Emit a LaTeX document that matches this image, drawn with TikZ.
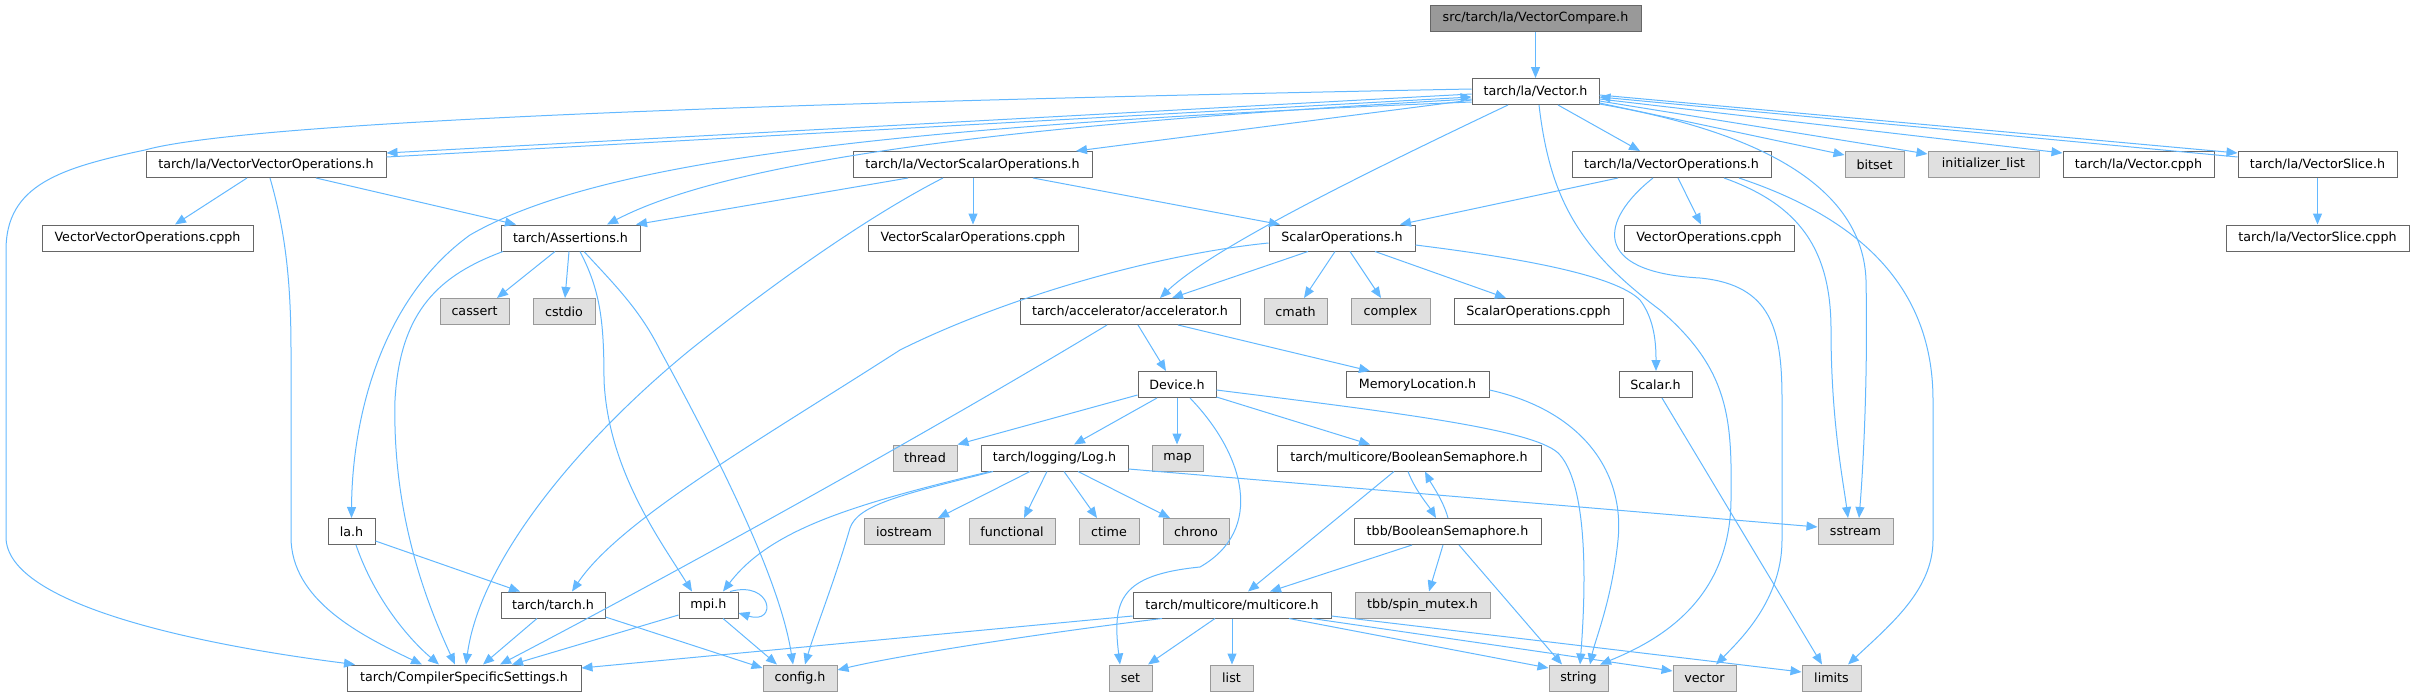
\documentclass[tikz,border=0pt]{standalone}
\usepackage{fontspec}
\newfontfamily\dej{DejaVu Sans}
\usetikzlibrary{arrows.meta}
\definecolor{edgec}{HTML}{63B8FF}
\definecolor{nodeborder}{HTML}{666666}
\definecolor{sysborder}{HTML}{999999}
\definecolor{sysfill}{HTML}{E0E0E0}
\definecolor{rootfill}{HTML}{999999}
\tikzset{
  nd/.style={draw=nodeborder, fill=white, line width=1pt, minimum height=26pt, inner sep=0pt, font={\dej\fontsize{12.7pt}{15pt}\selectfont}, text=black},
  sys/.style={nd, draw=sysborder, fill=sysfill},
  rootnd/.style={nd, fill=rootfill},
  e/.style={draw=edgec, line width=1pt, -{Triangle[length=11pt,width=9pt]}},
}
\begin{document}
\begin{tikzpicture}[x=1pt,y=-1pt]
\useasboundingbox (0,0) rectangle (2414,696);
% row 0
\node[rootnd, minimum width=211pt] (cmp) at (1535.5,18) {src/tarch/la/VectorCompare.h};
% row 1
\node[nd, minimum width=127pt] (vec) at (1535.5,91.5) {tarch/la/Vector.h};
% row 2
\node[nd, minimum width=240pt] (vvo) at (266,164.5) {tarch/la/VectorVectorOperations.h};
\node[nd, minimum width=239pt] (vso) at (972.5,164.5) {tarch/la/VectorScalarOperations.h};
\node[nd, minimum width=199pt] (vop) at (1671.5,164.5) {tarch/la/VectorOperations.h};
\node[sys, minimum width=59pt] (bitset) at (1874.5,164.5) {bitset};
\node[sys, minimum width=111pt] (initl) at (1983.5,164.5) {initializer\_list};
\node[nd, minimum width=151pt] (vcpph) at (2138.5,164.5) {tarch/la/Vector.cpph};
\node[nd, minimum width=159pt] (vsl) at (2317.5,164.5) {tarch/la/VectorSlice.h};
% row 3
\node[nd, minimum width=211pt] (vvocpph) at (147.5,238) {VectorVectorOperations.cpph};
\node[nd, minimum width=139pt] (ass) at (570.5,238) {tarch/Assertions.h};
\node[nd, minimum width=210pt] (vsocpph) at (973,238) {VectorScalarOperations.cpph};
\node[nd, minimum width=146pt] (sop) at (1342,238) {ScalarOperations.h};
\node[nd, minimum width=170pt] (vopcpph) at (1709,238) {VectorOperations.cpph};
\node[nd, minimum width=183pt] (vslcpph) at (2317.5,238) {tarch/la/VectorSlice.cpph};
% row 4
\node[sys, minimum width=69pt] (cassert) at (474.5,311.5) {cassert};
\node[sys, minimum width=62pt] (cstdio) at (564,311.5) {cstdio};
\node[nd, minimum width=220pt] (acc) at (1130,311.5) {tarch/accelerator/accelerator.h};
\node[sys, minimum width=63pt] (cmath) at (1295.5,311.5) {cmath};
\node[sys, minimum width=79pt] (complex) at (1390.5,311.5) {complex};
\node[nd, minimum width=169pt] (sopcpph) at (1538.5,311.5) {ScalarOperations.cpph};
% row 5
\node[nd, minimum width=78pt] (dev) at (1177,384.5) {Device.h};
\node[nd, minimum width=143pt] (memloc) at (1417.5,384.5) {MemoryLocation.h};
\node[nd, minimum width=73pt] (scalar) at (1655.5,384.5) {Scalar.h};
% row 6
\node[sys, minimum width=64pt] (thread) at (925,458) {thread};
\node[nd, minimum width=147pt] (log) at (1054.5,458) {tarch/logging/Log.h};
\node[sys, minimum width=51pt] (map) at (1177.5,458) {map};
\node[nd, minimum width=264pt] (bsem) at (1409,458) {tarch/multicore/BooleanSemaphore.h};
% row 7
\node[nd, minimum width=47pt] (lah) at (351.5,531.5) {la.h};
\node[sys, minimum width=80pt] (iostream) at (904,531.5) {iostream};
\node[sys, minimum width=86pt] (functional) at (1012,531.5) {functional};
\node[sys, minimum width=60pt] (ctime) at (1109,531.5) {ctime};
\node[sys, minimum width=66pt] (chrono) at (1196,531.5) {chrono};
\node[nd, minimum width=187pt] (tbbsem) at (1447.5,531.5) {tbb/BooleanSemaphore.h};
\node[sys, minimum width=75pt] (sstream) at (1855.5,531.5) {sstream};
% row 8
\node[nd, minimum width=104pt] (tarch) at (553,605) {tarch/tarch.h};
\node[nd, minimum width=59pt] (mpi) at (708.5,605) {mpi.h};
\node[nd, minimum width=198pt] (mc) at (1232,605) {tarch/multicore/multicore.h};
\node[sys, minimum width=135pt] (spin) at (1422.5,605) {tbb/spin\_mutex.h};
% row 9
\node[nd, minimum width=234pt] (css) at (464,678) {tarch/CompilerSpecificSettings.h};
\node[sys, minimum width=74pt] (config) at (800,678) {config.h};
\node[sys, minimum width=43pt] (set) at (1130.5,678) {set};
\node[sys, minimum width=43pt] (list) at (1231.5,678) {list};
\node[sys, minimum width=59pt] (string) at (1578.5,678) {string};
\node[sys, minimum width=63pt] (vector) at (1704.5,678) {vector};
\node[sys, minimum width=59pt] (limits) at (1831.5,678) {limits};

% ---- edges ----
\draw[e] (cmp) -- (vec);
% Vector.h out
\draw[e] (vec.west |- 0,94) -- (vvo.east |- 0,153);
\draw[e] (vvo.east |- 0,157) -- (vec.west |- 0,97);
\draw[e] (vec.west |- 0,89) .. controls (900,100) and (260,118) .. (145,150) .. controls (60,168) and (6,185) .. (6,250) -- (6,537) .. controls (6,605) and (200,645) .. (css.north -| 355,0);
\draw[e] (vec.west |- 0,100) -- (vso.north -| 1076,0);
\draw[e] (vec.west |- 0,102) .. controls (900,125) and (600,160) .. (470,235) .. controls (380,300) and (352,420) .. (lah.north);
\draw[e] (vec.west |- 0,99) .. controls (1100,120) and (750,150) .. (ass.north -| 607,0);
\draw[e] (vec.south -| 1558,0) -- (vop.north -| 1640,0);
\draw[e] (vec.south -| 1508,0) .. controls (1350,180) and (1210,250) .. (acc.north -| 1160,0);
\draw[e] (vec.south -| 1539,0) .. controls (1550,200) and (1580,250) .. (1660,310) .. controls (1730,370) and (1732,420) .. (1731,500) .. controls (1730,600) and (1660,640) .. (string.north -| 1600,0);
\draw[e] (vec.east |- 0,103) -- (bitset.west |- 0,155);
\draw[e] (vec.east |- 0,101) -- (initl.west |- 0,154);
\draw[e] (vec.east |- 0,99) -- (vcpph.west |- 0,153);
\draw[e] (vec.east |- 0,95) -- (vsl.west |- 0,153);
\draw[e] (vsl.west |- 0,157) -- (vec.east |- 0,97);
\draw[e] (vec.east |- 0,104) .. controls (1720,125) and (1862,170) .. (1866,280) .. controls (1868,380) and (1863,470) .. (sstream.north -| 1859,0);
% VectorOperations.h
\draw[e] (vop.south -| 1618,0) -- (sop.north -| 1400,0);
\draw[e] (vop.south -| 1678,0) -- (vopcpph.north -| 1701,0);
\draw[e] (vop.south -| 1653,0) .. controls (1600,220) and (1590,272) .. (1700,278) .. controls (1772,285) and (1782,330) .. (1782,400) -- (1782,540) .. controls (1782,600) and (1740,640) .. (vector.north -| 1716,0);
\draw[e] (vop.south -| 1724,0) .. controls (1800,205) and (1831,250) .. (1831,330) .. controls (1831,420) and (1843,480) .. (sstream.north -| 1848,0);
\draw[e] (vop.south -| 1739,0) .. controls (1850,215) and (1933,280) .. (1933,400) -- (1933,540) .. controls (1933,590) and (1890,625) .. (limits.north -| 1848,0);
% VectorVectorOperations.h
\draw[e] (vvo.south -| 247,0) -- (vvocpph.north -| 175,0);
\draw[e] (vvo.south -| 316,0) -- (ass.north -| 516,0);
\draw[e] (vvo.south -| 270,0) .. controls (285,230) and (291,280) .. (291,350) -- (291,537) .. controls (291,600) and (360,635) .. (css.north -| 422,0);
% Assertions.h
\draw[e] (ass.south -| 555,0) -- (cassert.north -| 497,0);
\draw[e] (ass.south -| 569,0) -- (cstdio.north -| 565,0);
\draw[e] (ass.south -| 580,0) .. controls (600,290) and (604,320) .. (604,380) .. controls (608,470) and (660,540) .. (mpi.north -| 692,0);
\draw[e] (ass.south -| 584,0) .. controls (615,285) and (640,310) .. (660,350) .. controls (720,460) and (780,580) .. (config.north -| 793,0);
\draw[e] (ass.south -| 503,0) .. controls (440,275) and (400,310) .. (395,400) .. controls (392,520) and (430,610) .. (css.north -| 455,0);
% VectorScalarOperations.h
\draw[e] (vso.south -| 908,0) -- (ass.north -| 636,0);
\draw[e] (vso.south -| 973,0) -- (vsocpph.north -| 973,0);
\draw[e] (vso.south -| 1033,0) -- (sop.north -| 1280,0);
\draw[e] (vso.south -| 943,0) .. controls (880,210) and (790,270) .. (690,350) .. controls (580,440) and (480,560) .. (css.north -| 466,0);
% ScalarOperations.h
\draw[e] (sop.south -| 1308,0) -- (acc.north -| 1172,0);
\draw[e] (sop.south -| 1335,0) -- (cmath.north -| 1304,0);
\draw[e] (sop.south -| 1350,0) -- (complex.north -| 1381,0);
\draw[e] (sop.south -| 1375,0) -- (sopcpph.north -| 1506,0);
\draw[e] (sop.east |- 0,245) .. controls (1520,258) and (1615,275) .. (1640,300) .. controls (1655,320) and (1656,345) .. (scalar.north -| 1656,0);
\draw[e] (sop.west |- 0,243) .. controls (1150,255) and (1000,300) .. (900,350) .. controls (760,440) and (620,520) .. (tarch.north -| 572,0);
% accelerator.h
\draw[e] (acc.south -| 1138,0) -- (dev.north -| 1166,0);
\draw[e] (acc.south -| 1178,0) -- (memloc.north -| 1370,0);
\draw[e] (acc.south -| 1107,0) .. controls (950,420) and (700,560) .. (css.north -| 500,0);
% Device.h
\draw[e] (dev.west |- 0,395) -- (thread.north east);
\draw[e] (dev.south -| 1157,0) -- (log.north -| 1074,0);
\draw[e] (dev.south -| 1177,0) -- (map.north -| 1177,0);
\draw[e] (dev.east |- 0,397) -- (bsem.north -| 1370,0);
\draw[e] (dev.east |- 0,390) .. controls (1400,413) and (1540,430) .. (1560,455) .. controls (1590,490) and (1585,600) .. (string.north -| 1580,0);
\draw[e] (dev.south -| 1190,0) .. controls (1245,455) and (1265,530) .. (1200,567) .. controls (1120,575) and (1112,600) .. (set.north -| 1120,0);
% Log.h
\draw[e] (log.south -| 990,0) .. controls (850,505) and (770,530) .. (mpi.north -| 723,0);
\draw[e] (log.south -| 993,0) .. controls (900,495) and (858,505) .. (850,528) .. controls (835,580) and (815,630) .. (config.north -| 805,0);
\draw[e] (log.south -| 1030,0) -- (iostream.north -| 938,0);
\draw[e] (log.south -| 1047,0) -- (functional.north -| 1024,0);
\draw[e] (log.south -| 1064,0) -- (ctime.north -| 1097,0);
\draw[e] (log.south -| 1078,0) -- (chrono.north -| 1170,0);
\draw[e] (log.east |- 0,469) -- (sstream.west |- 0,527);
% BooleanSemaphore
\draw[e] (bsem.south -| 1394,0) -- (mc.north -| 1248,0);
\draw[e] (bsem.south -| 1408,0) .. controls (1415,490) and (1428,505) .. (tbbsem.north -| 1436,0);
\draw[e] (tbbsem.north -| 1448,0) .. controls (1443,500) and (1432,485) .. (bsem.south -| 1425,0);
\draw[e] (tbbsem.south -| 1412,0) -- (mc.north -| 1270,0);
\draw[e] (tbbsem.south -| 1443,0) -- (spin.north -| 1429,0);
\draw[e] (tbbsem.south -| 1459,0) -- (string.north -| 1562,0);
% MemoryLocation, Scalar
\draw[e] (memloc.east |- 0,390) .. controls (1580,410) and (1625,470) .. (1618,540) .. controls (1612,600) and (1595,640) .. (string.north -| 1590,0);
\draw[e] (scalar.south -| 1662,0) -- (limits.north -| 1822,0);
% multicore.h
\draw[e] (mc.west |- 0,616) -- (css.east |- 0,668);
\draw[e] (mc.south -| 1162,0) .. controls (1050,632) and (900,655) .. (config.east |- 0,670);
\draw[e] (mc.south -| 1215,0) -- (set.north -| 1148,0);
\draw[e] (mc.south -| 1232,0) -- (list.north -| 1232,0);
\draw[e] (mc.south -| 1289,0) -- (string.west |- 0,668);
\draw[e] (mc.south -| 1312,0) -- (vector.west |- 0,671);
\draw[e] (mc.east |- 0,616) -- (limits.west |- 0,672);
% la.h, tarch.h, mpi.h
\draw[e] (lah.east |- 0,541) -- (tarch.north -| 520,0);
\draw[e] (lah.south -| 356,0) .. controls (375,600) and (410,640) .. (css.north -| 439,0);
\draw[e] (tarch.south -| 537,0) -- (css.north -| 483,0);
\draw[e] (tarch.east |- 0,617) -- (config.west |- 0,668);
\draw[e] (mpi.north -| 730,0) .. controls (772,580) and (778,625) .. (mpi.east |- 0,613);
\draw[e] (mpi.south -| 723,0) -- (config.north -| 777,0);
\draw[e] (mpi.west |- 0,615) -- (css.north -| 512,0);
% VectorSlice
\draw[e] (vsl) -- (vslcpph);
\end{tikzpicture}
\end{document}
